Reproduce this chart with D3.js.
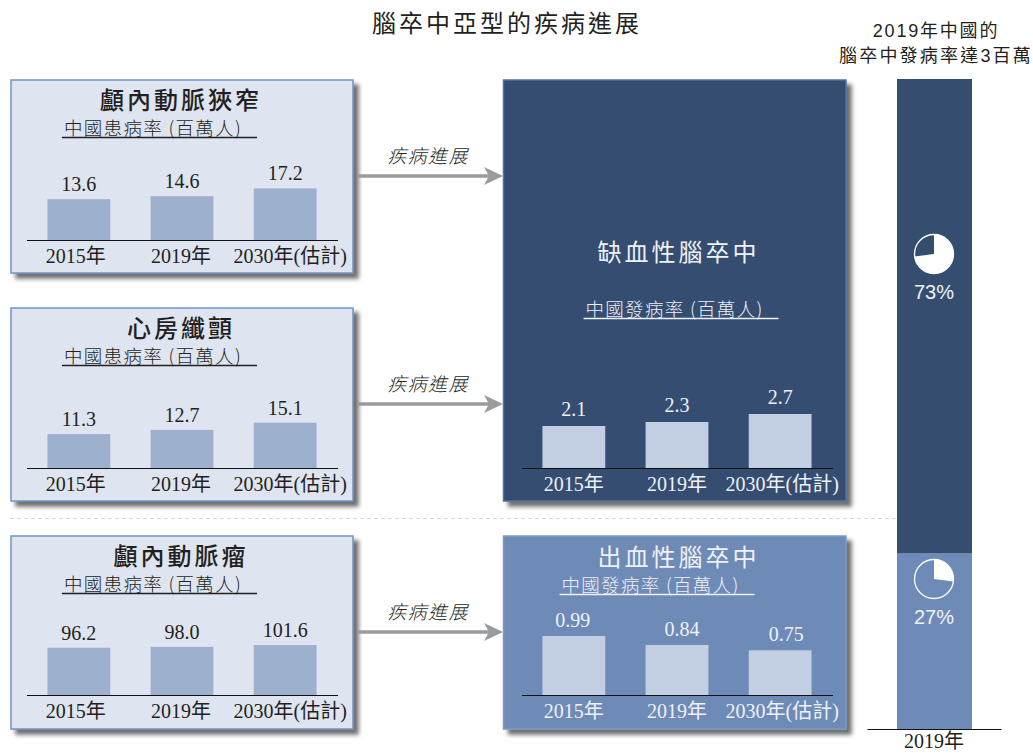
<!DOCTYPE html>
<html lang="zh-Hant">
<head>
<meta charset="utf-8">
<title>腦卒中亞型的疾病進展</title>
<script src="https://cdn.jsdelivr.net/npm/d3@7/dist/d3.min.js"></script>
<style>
  html, body { margin: 0; padding: 0; background: #fff; }
  svg { display: block; }
  text { font-family: "Liberation Serif", "Noto Sans CJK TC", serif; }
  .cjk { font-family: "Noto Sans CJK TC", "Liberation Sans", sans-serif; }
  .sans { font-family: "Liberation Sans", "Noto Sans CJK TC", sans-serif; }
</style>
</head>
<body>
<svg id="chart" width="1033" height="753"></svg>
<script>
// Chart values
const years = ["2015年", "2019年", "2030年(估計)"];
const stenosisPrevalence = [13.6, 14.6, 17.2];
const fibrillationPrevalence = [11.3, 12.7, 15.1];
const aneurysmPrevalence = [96.2, 98.0, 101.6];
const ischemicIncidence = [2.1, 2.3, 2.7];
const hemorrhagicIncidence = [0.99, 0.84, 0.75];
const subtypeShares = [73, 27];
const valueText = {
  stenosis: ["13.6", "14.6", "17.2"],
  fibrillation: ["11.3", "12.7", "15.1"],
  aneurysm: ["96.2", "98.0", "101.6"],
  ischemic: ["2.1", "2.3", "2.7"],
  hemorrhagic: ["0.99", "0.84", "0.75"]
};

const color = {
  dark: "#354e70", mid: "#6e8ab6", pale: "#dfe5f0", edge: "#7193c2",
  barMid: "#9db0ce", barPale: "#c2cfe3", ink: "#231f20", arrow: "#999b9e", onDark: "#eef2f8"
};

const svg = d3.select("#chart");

// Soft offset shadow shared by every panel
const shadow = svg.append("defs").append("filter")
  .attr("id", "panelShadow").attr("x", "-5%").attr("y", "-5%").attr("width", "112%").attr("height", "112%");
shadow.append("feDropShadow")
  .attr("dx", 5).attr("dy", 5).attr("stdDeviation", 2)
  .attr("flood-color", "#4a4a4a").attr("flood-opacity", 0.8);

const spacedText = (g, str, x, y, size, fill, opts = {}) => g.append("text")
  .attr("class", opts.cls || "cjk")
  .attr("x", x).attr("y", y)
  .attr("text-anchor", opts.anchor || "middle")
  .attr("font-size", size)
  .attr("font-weight", opts.weight || 400)
  .attr("font-style", opts.style || "normal")
  .attr("letter-spacing", opts.spacing || 0)
  .attr("fill", fill)
  .text(str);

// Each panel: heading, underlined subheading, small bar chart with its own scales
function drawPanel(p) {
  const g = svg.append("g");
  g.append("rect")
    .attr("x", p.x).attr("y", p.y).attr("width", p.w).attr("height", p.h)
    .attr("fill", p.fill).attr("stroke", p.stroke).attr("stroke-width", 1.5)
    .attr("filter", "url(#panelShadow)");

  spacedText(g, p.title, p.x + p.titleX, p.y + p.titleY, 24, p.text, { spacing: 3, weight: p.titleWeight });
  spacedText(g, p.sub, p.x + p.subX, p.y + p.subY, 18.5, p.text, { anchor: "start", spacing: 1.3, weight: 300 });
  g.append("line")
    .attr("x1", p.x + p.subX - 2).attr("x2", p.x + p.subX + p.subW)
    .attr("y1", p.y + p.subY + 2.5).attr("y2", p.y + p.subY + 2.5)
    .attr("stroke", p.text).attr("stroke-width", 1.4);

  const x = d3.scaleBand().domain(years)
    .range([p.x + 15.5 + p.inset, p.x + 326.5 + p.inset]).paddingInner(0.391).paddingOuter(0.203);
  const y = d3.scaleLinear().domain(p.domain).range([p.baseY, p.baseY - p.span]);

  g.selectAll(".bar").data(p.values).join("rect")
    .attr("class", "bar")
    .attr("x", (d, i) => x(years[i]))
    .attr("width", x.bandwidth())
    .attr("y", d => y(d))
    .attr("height", d => y(0) - y(d))
    .attr("fill", p.bar);

  g.selectAll(".val").data(p.values).join("text")
    .attr("class", "val")
    .attr("x", (d, i) => x(years[i]) + x.bandwidth() / 2 + p.valueDx[i])
    .attr("y", d => y(d) - p.valueGap)
    .attr("text-anchor", "middle")
    .attr("font-size", 20)
    .attr("fill", p.text)
    .text((d, i) => p.labels[i]);

  const axis = g.append("g")
    .attr("transform", `translate(0,${p.baseY})`)
    .call(d3.axisBottom(x).tickSize(0).tickPadding(9));
  axis.select(".domain").attr("stroke", "#111").attr("stroke-width", 1.2);
  axis.selectAll("text")
    .attr("font-family", null)
    .attr("font-size", 20)
    .attr("fill", p.text)
    .attr("dx", (d, i) => p.tickDx[i]);
}

const lightPanel = { w: 342, h: 193, inset: 0, fill: color.pale, stroke: color.edge, text: color.ink, bar: color.barMid,
  titleX: 170, titleY: 29, subX: 53, subY: 55, subW: 193, titleWeight: 500,
  valueGap: 8, valueDx: [0, 0, 0], tickDx: [-3, -1, 5] };
const subPrevalence = "中國患病率 (百萬人)";
const subIncidence = "中國發病率 (百萬人)";

drawPanel({ ...lightPanel, x: 11, y: 80, title: "顱內動脈狹窄", sub: subPrevalence, baseY: 240,
  values: stenosisPrevalence, labels: valueText.stenosis, domain: [0, 20], span: 60 });
drawPanel({ ...lightPanel, x: 11, y: 308, title: "心房纖顫", sub: subPrevalence, baseY: 468,
  values: fibrillationPrevalence, labels: valueText.fibrillation, domain: [0, 20], span: 60 });
drawPanel({ ...lightPanel, x: 11, y: 536, title: "顱內動脈瘤", sub: subPrevalence, baseY: 695,
  values: aneurysmPrevalence, labels: valueText.aneurysm, domain: [0, 120], span: 59 });
drawPanel({ x: 503.5, y: 80, w: 342.5, h: 421, inset: 2.5, fill: color.dark, stroke: "#5272a0", text: color.onDark, bar: color.barPale,
  title: "缺血性腦卒中", titleX: 175, titleY: 181, sub: subIncidence, subX: 82, subY: 236, subW: 193, titleWeight: 400,
  valueGap: 10, valueDx: [0, 0, 0], tickDx: [0, 0, 2],
  baseY: 468, values: ischemicIncidence, labels: valueText.ischemic, domain: [0, 3], span: 60 });
drawPanel({ x: 503.5, y: 536, w: 342.5, h: 193, inset: 2.5, fill: color.mid, stroke: "#7f9ac2", text: color.onDark, bar: color.barPale,
  title: "出血性腦卒中", titleX: 175, titleY: 30, sub: subIncidence, subX: 58, subY: 56, subW: 193, titleWeight: 400,
  valueGap: 9, valueDx: [-1, 5, 6], tickDx: [0, 0, 2],
  baseY: 695, values: hemorrhagicIncidence, labels: valueText.hemorrhagic, domain: [0, 1], span: 59.6 });

// Progression arrows linking each risk factor to its stroke type
[176, 404, 632].forEach(yPos => {
  const g = svg.append("g");
  g.append("line").attr("x1", 358).attr("x2", 490).attr("y1", yPos).attr("y2", yPos)
    .attr("stroke", color.arrow).attr("stroke-width", 3.6);
  g.append("path")
    .attr("d", `M484,${yPos - 9}L503,${yPos}L484,${yPos + 9}L489,${yPos}Z`)
    .attr("fill", color.arrow);
  spacedText(g, "疾病進展", 428, yPos - 13, 19, color.ink, { style: "italic", spacing: 1.4, weight: 300 });
});

// Dashed divider between the ischemic and hemorrhagic rows
svg.append("line").attr("x1", 10).attr("x2", 897).attr("y1", 518.5).attr("y2", 518.5)
  .attr("stroke", "#d8d8d8").attr("stroke-width", 1).attr("stroke-dasharray", "4 3");

// Headings
spacedText(svg, "腦卒中亞型的疾病進展", 507, 32, 24, color.ink, { spacing: 3 });
spacedText(svg, "2019年中國的", 936, 37, 18, color.ink, { cls: "sans", spacing: 1.8 });
spacedText(svg, "腦卒中發病率達3百萬", 936, 62, 18, color.ink, { cls: "sans", spacing: 2.2 });

// Stacked column of the 2019 subtype split
const stackY = d3.scaleLinear().domain([0, d3.sum(subtypeShares)]).range([729, 79]);
const stackRows = [{ hemorrhagic: subtypeShares[1], ischemic: subtypeShares[0] }];
const stackLayers = d3.stack().keys(["hemorrhagic", "ischemic"])(stackRows);
const stackFill = { hemorrhagic: color.mid, ischemic: color.dark };
svg.selectAll(".segment").data(stackLayers).join("rect")
  .attr("class", "segment")
  .attr("x", 897).attr("width", 75)
  .attr("y", d => stackY(d[0][1]))
  .attr("height", d => stackY(d[0][0]) - stackY(d[0][1]))
  .attr("fill", d => stackFill[d.key]);

const stackAxisX = d3.scaleBand().domain(["2019年"]).range([867, 1001]);
const stackAxis = svg.append("g").attr("transform", "translate(0,729)")
  .call(d3.axisBottom(stackAxisX).tickSize(0).tickPadding(5));
stackAxis.select(".domain").attr("stroke", "#111").attr("stroke-width", 1.2);
stackAxis.selectAll("text").attr("font-family", null).attr("font-size", 20).attr("fill", color.ink);

// Share pies: the white slice runs clockwise from twelve o'clock
const pie = d3.pie().sort(null).value(d => d);
[{ share: subtypeShares[0], cy: 254, labelY: 299 }, { share: subtypeShares[1], cy: 579, labelY: 624 }].forEach(s => {
  const g = svg.append("g").attr("transform", `translate(934,${s.cy})`);
  const r = 19.5;
  const slices = pie([s.share, 100 - s.share]);
  g.append("circle").attr("r", r).attr("fill", "none").attr("stroke", "#fff").attr("stroke-width", 1.3);
  g.append("path").attr("d", d3.arc().innerRadius(0).outerRadius(r)(slices[0])).attr("fill", "#fff");
  spacedText(svg, s.share + "%", 934, s.labelY, 20, color.onDark, { cls: "sans" });
});
</script>
</body>
</html>
